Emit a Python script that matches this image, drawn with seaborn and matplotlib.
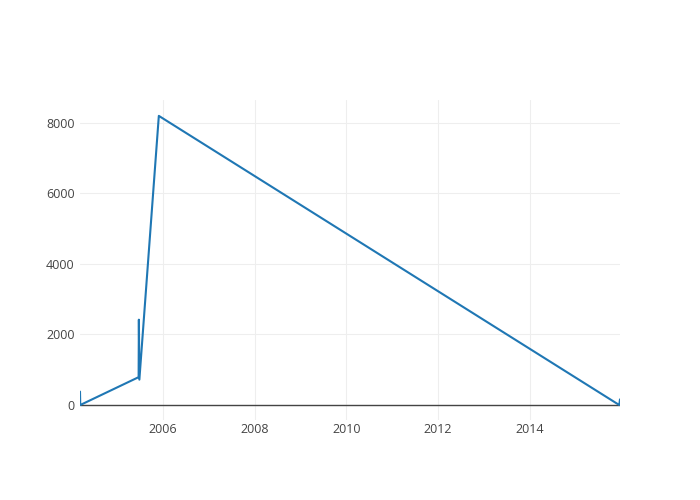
import pandas as pd
import numpy as np
import matplotlib
matplotlib.use("Agg")
import matplotlib.pyplot as plt
import matplotlib.dates as mdates
import seaborn as sns

# datos
fechas = ['2004-03-10', '2004-03-12', '2005-06-20', '2005-06-22',
          '2005-06-26', '2005-11-28', '2015-12-14', '2015-12-20']
valores = [380, 0, 790, 2420, 720, 8200, 0, 160]
anios_ticks = [2006, 2008, 2010, 2012, 2014]
y_ticks = [0, 2000, 4000, 6000, 8000]

df = pd.DataFrame({'fecha': pd.to_datetime(fechas), 'valor': valores})

sns.set_theme(style="white")
plt.rcParams['font.family'] = ['Open Sans', 'DejaVu Sans']

fig = plt.figure(figsize=(7, 5), dpi=100)
ax = fig.add_axes([80/700, 80/500, 540/700, 320/500])
sns.lineplot(data=df, x='fecha', y='valor', sort=False, estimator=None,
             color='#1f77b4', linewidth=1.5, ax=ax)

ax.set_xlim(df.fecha.min(), df.fecha.max())
ax.set_ylim(-425, 8650)
ax.set_xticks([pd.Timestamp(f'{a}-01-01') for a in anios_ticks])
ax.xaxis.set_major_formatter(mdates.DateFormatter('%Y'))
ax.set_yticks(y_ticks)
ax.grid(True, color='#eeeeee', linewidth=0.8)
ax.set_axisbelow(True)
ax.axhline(0, color='#444444', linewidth=1, zorder=1)
for s in ax.spines.values():
    s.set_visible(False)
ax.tick_params(length=0, labelsize=9, labelcolor='#444444', pad=4)
ax.tick_params(axis='x', pad=2.5)
ax.set_xlabel('')
ax.set_ylabel('')

plt.savefig('out.png', dpi=100)
